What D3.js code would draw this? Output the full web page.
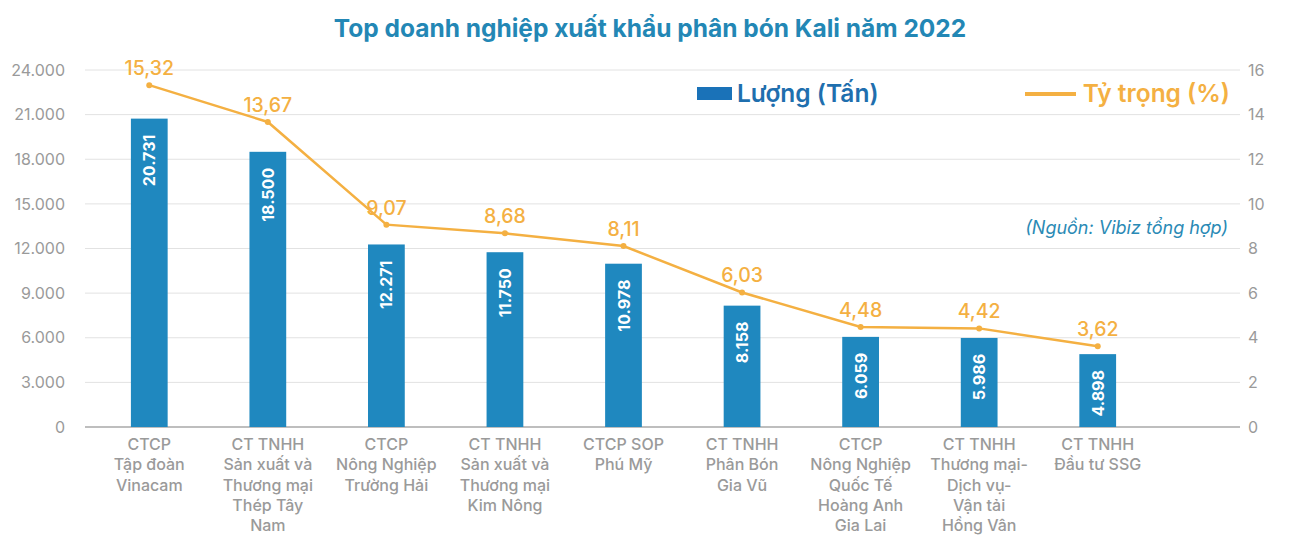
<!DOCTYPE html>
<html>
<head>
<meta charset="utf-8">
<script src="https://cdn.jsdelivr.net/npm/d3@7"></script>
<style>
  body { margin: 0; background: #fff; }
  svg text { font-family: Inter, "Noto Sans", sans-serif; }
</style>
</head>
<body>
<div id="container"></div>
<script>
const companies = [
  ["CTCP", "Tập đoàn", "Vinacam"],
  ["CT TNHH", "Sản xuất và", "Thương mại", "Thép Tây", "Nam"],
  ["CTCP", "Nông Nghiệp", "Trường Hải"],
  ["CT TNHH", "Sản xuất và", "Thương mại", "Kim Nông"],
  ["CTCP SOP", "Phú Mỹ"],
  ["CT TNHH", "Phân Bón", "Gia Vũ"],
  ["CTCP", "Nông Nghiệp", "Quốc Tế", "Hoàng Anh", "Gia Lai"],
  ["CT TNHH", "Thương mại-", "Dịch vụ-", "Vận tải", "Hồng Vân"],
  ["CT TNHH", "Đầu tư SSG"]
];
const volumes = [20731, 18500, 12271, 11750, 10978, 8158, 6059, 5986, 4898];
const shares = [15.32, 13.67, 9.07, 8.68, 8.11, 6.03, 4.48, 4.42, 3.62];
const leftTicks = [0, 3000, 6000, 9000, 12000, 15000, 18000, 21000, 24000];
const rightTicks = [0, 2, 4, 6, 8, 10, 12, 14, 16];

const width = 1296;
const height = 539;
const barColor = "#1f88bf";
const lineColor = "#f4b042";
const gray = "#9a9a9a";

const vn = d3.formatLocale({decimal: ",", thousands: ".", grouping: [3], currency: ["", ""]});
const fmtInt = vn.format(",d");
const fmtPct = vn.format(".2f");

const svg = d3.select("#container").append("svg")
  .attr("width", width)
  .attr("height", height);

const x = d3.scaleBand().domain(d3.range(companies.length)).range([90, 1157]).paddingInner(0.69).paddingOuter(0.345);
const yL = d3.scaleLinear().domain([0, 24000]).range([427, 70]);
const yR = d3.scaleLinear().domain([0, 16]).range([427, 70]);
const plotLeft = 85, plotRight = 1240;

// title
svg.append("text")
  .text("Top doanh nghiệp xuất khẩu phân bón Kali năm 2022")
  .attr("x", 650).attr("y", 37)
  .attr("text-anchor", "middle")
  .attr("font-size", 24.5)
  .attr("font-weight", 700)
  .attr("fill", "#2387b5");

// grid
svg.append("g").selectAll("line").data(leftTicks).join("line")
  .attr("x1", plotLeft).attr("x2", plotRight)
  .attr("y1", d => yL(d)).attr("y2", d => yL(d))
  .attr("stroke", d => d === 0 ? "#a8a8a8" : "#e2e2e2")
  .attr("stroke-width", d => d === 0 ? 1.5 : 1);

// axes
const axisL = svg.append("g")
  .attr("transform", `translate(${plotLeft},0)`)
  .call(d3.axisLeft(yL).tickValues(leftTicks).tickFormat(fmtInt).tickSize(0).tickPadding(20));
axisL.select(".domain").remove();
axisL.selectAll("text").attr("font-size", 16).attr("fill", gray).attr("font-family", "Inter, sans-serif");

const axisR = svg.append("g")
  .attr("transform", `translate(${plotRight},0)`)
  .call(d3.axisRight(yR).tickValues(rightTicks).tickSize(0).tickPadding(8));
axisR.select(".domain").remove();
axisR.selectAll("text").attr("font-size", 16).attr("fill", gray).attr("font-family", "Inter, sans-serif");

// bars
svg.append("g").selectAll("rect").data(volumes).join("rect")
  .attr("x", (d, i) => x(i))
  .attr("width", x.bandwidth())
  .attr("y", d => yL(d))
  .attr("height", d => yL(0) - yL(d))
  .attr("fill", barColor);

svg.append("g").selectAll("text").data(volumes).join("text")
  .attr("transform", (d, i) => `translate(${x(i) + x.bandwidth() / 2 + 6},${yL(d) + 16}) rotate(-90)`)
  .attr("text-anchor", "end")
  .attr("font-size", 16)
  .attr("font-weight", 700)
  .attr("fill", "#fff")
  .text(d => fmtInt(d));

// line
const cx = i => x(i) + x.bandwidth() / 2;
svg.append("path")
  .datum(shares)
  .attr("fill", "none")
  .attr("stroke", lineColor)
  .attr("stroke-width", 2.5)
  .attr("d", d3.line().x((d, i) => cx(i)).y(d => yR(d)));

svg.append("g").selectAll("circle").data(shares).join("circle")
  .attr("cx", (d, i) => cx(i)).attr("cy", d => yR(d))
  .attr("r", 3).attr("fill", lineColor);

svg.append("g").selectAll("text").data(shares).join("text")
  .attr("x", (d, i) => cx(i)).attr("y", d => yR(d) - 10)
  .attr("text-anchor", "middle")
  .attr("font-size", 19.5)
  .attr("font-weight", 500)
  .attr("fill", lineColor)
  .text(d => fmtPct(d));

// category labels
const catG = svg.append("g").selectAll("text").data(companies).join("text")
  .attr("text-anchor", "middle")
  .attr("font-size", 16)
  .attr("font-weight", 500)
  .attr("fill", gray);
catG.selectAll("tspan").data((d, i) => d.map(s => ({s, i}))).join("tspan")
  .attr("x", d => cx(d.i))
  .attr("y", (d, j) => 450 + j * 20.3)
  .text(d => d.s);

// legend
svg.append("rect").attr("x", 697).attr("y", 87).attr("width", 35).attr("height", 13).attr("fill", "#1a72b8");
svg.append("text").text("Lượng (Tấn)")
  .attr("x", 737).attr("y", 102)
  .attr("font-size", 24.5).attr("font-weight", 600).attr("fill", "#1f6fae");
svg.append("line").attr("x1", 1025).attr("x2", 1076).attr("y1", 94).attr("y2", 94)
  .attr("stroke", lineColor).attr("stroke-width", 4);
svg.append("text").text("Tỷ trọng (%)")
  .attr("x", 1230).attr("y", 102)
  .attr("text-anchor", "end")
  .attr("font-size", 24.5).attr("font-weight", 600).attr("fill", lineColor);

// source
svg.append("text").text("(Nguồn: Vibiz tổng hợp)")
  .attr("x", 1228).attr("y", 234)
  .attr("text-anchor", "end")
  .attr("font-size", 18).attr("font-style", "italic")
  .attr("fill", "#2a8ab5");
</script>
</body>
</html>
